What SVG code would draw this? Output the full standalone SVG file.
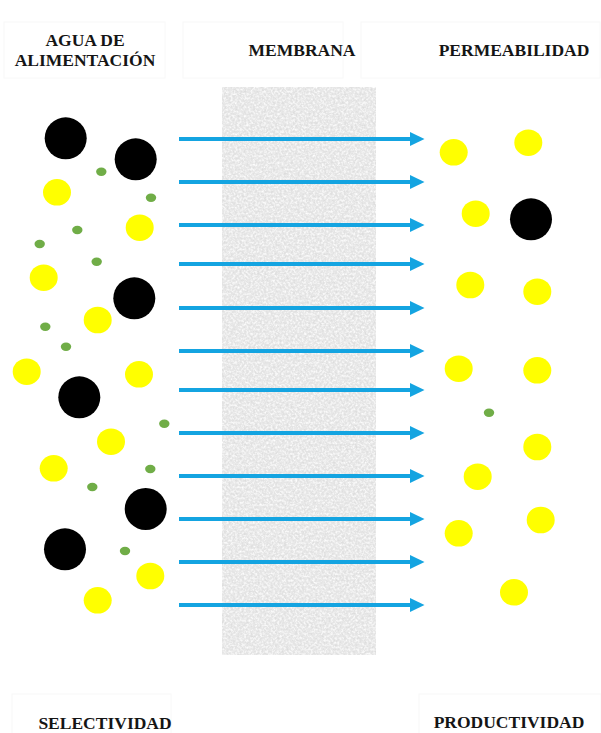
<svg xmlns="http://www.w3.org/2000/svg" width="601" height="733" viewBox="0 0 601 733">
<style>
.lbl{font-family:"Liberation Serif","DejaVu Serif",serif;font-weight:700;font-size:17.5px;fill:#151515;text-anchor:middle}
.box{fill:#fff;stroke:#f8f8f8;stroke-width:1}
.y{fill:#ffff00}
.k{fill:#000}
.g{fill:#70ad47}
.arr{stroke:#14a4e1;stroke-width:4;fill:none;marker-end:url(#ah)}
</style>
<defs>
<marker id="ah" markerWidth="15" markerHeight="14" refX="1" refY="7" orient="auto" markerUnits="userSpaceOnUse" viewBox="0 0 15 14">
<path d="M0,0 L14.5,7 L0,14 Z" fill="#14a4e1"/>
</marker>
<filter id="noise" x="0" y="0" width="100%" height="100%">
<feTurbulence type="fractalNoise" baseFrequency="0.45" numOctaves="3" seed="7" result="t"/>
<feColorMatrix in="t" type="matrix" values="0 0 0 0 0.72  0 0 0 0 0.72  0 0 0 0 0.72  2.4 0 0 0 -1.0" result="dark"/>
<feColorMatrix in="t" type="matrix" values="0 0 0 0 1  0 0 0 0 1  0 0 0 0 1  -2.6 0 0 0 1.25" result="light"/>
<feMerge result="m"><feMergeNode in="light"/><feMergeNode in="dark"/></feMerge>
<feComposite in="m" in2="SourceGraphic" operator="in"/>
</filter>
</defs>
<rect width="601" height="733" fill="#fff"/>

<g id="membrane">
<rect x="222" y="87" width="154" height="568" fill="#ececec"/>
<rect x="222" y="87" width="154" height="568" fill="#fff" filter="url(#noise)"/>
</g>

<g id="label-agua">
<rect class="box" x="4" y="22" width="161" height="56"/>
<text class="lbl" x="85" y="46">AGUA DE</text>
<text class="lbl" x="85" y="66">ALIMENTACIÓN</text>
</g>
<g id="label-membrana">
<rect class="box" x="183" y="22" width="160" height="56"/>
<text class="lbl" x="302" y="56">MEMBRANA</text>
</g>
<g id="label-permeabilidad">
<rect class="box" x="361" y="22" width="239" height="56"/>
<text class="lbl" x="514" y="56">PERMEABILIDAD</text>
</g>
<g id="label-selectividad">
<rect class="box" x="12" y="694" width="159" height="45"/>
<text class="lbl" x="105" y="729">SELECTIVIDAD</text>
</g>
<g id="label-productividad">
<rect class="box" x="419" y="694" width="182" height="45"/>
<text class="lbl" x="509" y="728">PRODUCTIVIDAD</text>
</g>

<g id="connectors">
<line class="arr" x1="179" y1="139" x2="411" y2="139"/>
<line class="arr" x1="179" y1="182" x2="411" y2="182"/>
<line class="arr" x1="179" y1="225" x2="411" y2="225"/>
<line class="arr" x1="179" y1="264" x2="411" y2="264"/>
<line class="arr" x1="179" y1="308" x2="411" y2="308"/>
<line class="arr" x1="179" y1="351" x2="411" y2="351"/>
<line class="arr" x1="179" y1="390" x2="411" y2="390"/>
<line class="arr" x1="179" y1="433" x2="411" y2="433"/>
<line class="arr" x1="179" y1="476" x2="411" y2="476"/>
<line class="arr" x1="179" y1="519" x2="411" y2="519"/>
<line class="arr" x1="179" y1="562" x2="411" y2="562"/>
<line class="arr" x1="179" y1="605" x2="411" y2="605"/>
</g>

<g id="feed-particles">
<circle class="k" cx="65.7" cy="138.3" r="21"/>
<circle class="k" cx="135.7" cy="159.3" r="21"/>
<circle class="k" cx="134.3" cy="298.3" r="21"/>
<circle class="k" cx="79.3" cy="397.3" r="21"/>
<circle class="k" cx="145.7" cy="509" r="21"/>
<circle class="k" cx="65" cy="549.3" r="21"/>
<ellipse class="y" cx="57" cy="192.3" rx="14" ry="13.3"/>
<ellipse class="y" cx="139.7" cy="227.7" rx="14" ry="13.3"/>
<ellipse class="y" cx="43.7" cy="277.7" rx="14" ry="13.3"/>
<ellipse class="y" cx="97.7" cy="320" rx="14" ry="13.3"/>
<ellipse class="y" cx="26.7" cy="371.7" rx="14" ry="13.3"/>
<ellipse class="y" cx="139" cy="374.3" rx="14" ry="13.3"/>
<ellipse class="y" cx="111" cy="441.7" rx="14" ry="13.3"/>
<ellipse class="y" cx="53.7" cy="468.3" rx="14" ry="13.3"/>
<ellipse class="y" cx="150.3" cy="576" rx="14" ry="13.3"/>
<ellipse class="y" cx="97.7" cy="600.3" rx="14" ry="13.3"/>
<ellipse class="g" cx="101.3" cy="171.7" rx="5.2" ry="4.2"/>
<ellipse class="g" cx="151" cy="197.7" rx="5.2" ry="4.2"/>
<ellipse class="g" cx="77.3" cy="230" rx="5.2" ry="4.2"/>
<ellipse class="g" cx="39.7" cy="244" rx="5.2" ry="4.2"/>
<ellipse class="g" cx="96.7" cy="261.7" rx="5.2" ry="4.2"/>
<ellipse class="g" cx="45.3" cy="326.7" rx="5.2" ry="4.2"/>
<ellipse class="g" cx="66" cy="346.7" rx="5.2" ry="4.2"/>
<ellipse class="g" cx="164.3" cy="423.7" rx="5.2" ry="4.2"/>
<ellipse class="g" cx="150.3" cy="469" rx="5.2" ry="4.2"/>
<ellipse class="g" cx="92.3" cy="487" rx="5.2" ry="4.2"/>
<ellipse class="g" cx="125" cy="551" rx="5.2" ry="4.2"/>
</g>

<g id="permeate-particles">
<circle class="k" cx="531" cy="219.3" r="21"/>
<ellipse class="y" cx="453.7" cy="152.3" rx="14" ry="13.3"/>
<ellipse class="y" cx="528.3" cy="142.7" rx="14" ry="13.3"/>
<ellipse class="y" cx="475.7" cy="213.7" rx="14" ry="13.3"/>
<ellipse class="y" cx="470.3" cy="285" rx="14" ry="13.3"/>
<ellipse class="y" cx="537.3" cy="291.7" rx="14" ry="13.3"/>
<ellipse class="y" cx="458.7" cy="368.7" rx="14" ry="13.3"/>
<ellipse class="y" cx="537.3" cy="370.3" rx="14" ry="13.3"/>
<ellipse class="y" cx="537.3" cy="447" rx="14" ry="13.3"/>
<ellipse class="y" cx="477.7" cy="476.7" rx="14" ry="13.3"/>
<ellipse class="y" cx="540.7" cy="520" rx="14" ry="13.3"/>
<ellipse class="y" cx="458.7" cy="533.3" rx="14" ry="13.3"/>
<ellipse class="y" cx="514" cy="592.3" rx="14" ry="13.3"/>
<ellipse class="g" cx="489" cy="412.7" rx="5.2" ry="4.2"/>
</g>
</svg>
